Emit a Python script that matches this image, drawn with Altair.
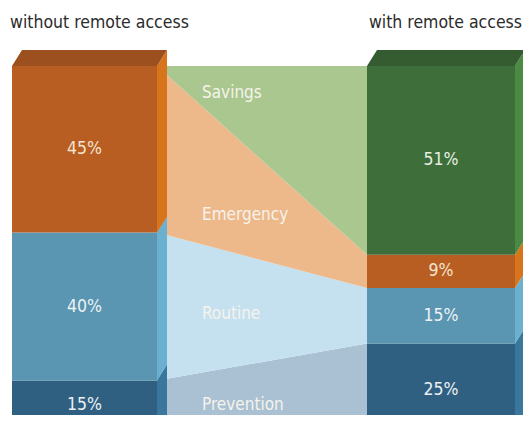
import altair as alt
import pandas as pd

# ---- data ----
categories = ["Prevention", "Routine", "Emergency", "Savings"]   # bottom -> top
without_pct = [15, 40, 45, 0]
with_pct = [25, 15, 9, 51]
bar_titles = ["without remote access", "with remote access"]

# ---- styles ----
front_col = {"Prevention": "#2f6082", "Routine": "#5a95b2", "Emergency": "#b95e22", "Savings": "#3e6f3b"}
side_col = {"Prevention": "#3a779c", "Routine": "#6cb0d0", "Emergency": "#d8741b", "Savings": "#4a8a42"}
top_col = {"Emergency": "#9c4f1f", "Savings": "#355c31"}
band_col = {"Prevention": "#a9c1d3", "Routine": "#c5e1f0", "Emergency": "#eeb98a", "Savings": "#a9c78f"}
pct_text_col = {"Prevention": "#eef0f2", "Routine": "#eef2f4", "Emergency": "#f3e4cf", "Savings": "#e8efe2"}

# ---- layout (x in pixel-like layout units, y in percent units) ----
W, H = 515, 407
bars_x = [(4, 149), (359, 507)]       # front face left/right edges
DX = 10                               # depth offset in x
PXPCT = 3.7                           # pixels per percent
TOP_PIX = 58                          # pixel row where 100% sits
DY = 16 / PXPCT                       # depth offset in percent units
y_dom = [100 - (H - TOP_PIX) / PXPCT, 100 + TOP_PIX / PXPCT]
y_min_text = y_dom[0] + 10 / PXPCT    # keep texts inside the bottom edge
label_y = {"Savings": 92.7, "Emergency": 59.7, "Routine": 33.0, "Prevention": 8.4}
cat_label_x = 194
FS = 17.5

xs = alt.Scale(domain=[0, W], nice=False, zero=False)
ys = alt.Scale(domain=y_dom, nice=False, zero=False)

def stack(vals):
    out, b = [], 0
    for c, v in zip(categories, vals):
        out.append((c, b, b + v))
        b += v
    return out

stacks = [stack(without_pct), stack(with_pct)]

fronts, sides, tops, bands, pcts = [], [], [], [], []
for bi, (st, (x0, x1)) in enumerate(zip(stacks, bars_x)):
    for c, lo, hi in st:
        if hi - lo <= 0:
            continue
        fronts.append(dict(x=x0, x2=x1, y=hi, y2=lo, col=front_col[c]))
        key = f"{bi}-{c}"
        sides.append(dict(k=key, x=x1, y=hi, y2=lo, col=side_col[c]))
        sides.append(dict(k=key, x=x1 + DX, y=hi + DY, y2=lo + DY, col=side_col[c]))
        pcts.append(dict(x=(x0 + x1) / 2, y=max((lo + hi) / 2, y_min_text),
                         t=f"{hi - lo:g}%", col=pct_text_col[c]))
    topcat = [c for c, lo, hi in st if hi > lo][-1]
    tc = top_col[topcat]
    k = f"top{bi}"
    tops += [dict(k=k, x=x0, y=100, y2=100, col=tc),
             dict(k=k, x=x0 + DX, y=100 + DY, y2=100, col=tc),
             dict(k=k, x=x1, y=100 + DY, y2=100, col=tc),
             dict(k=k, x=x1 + DX, y=100 + DY, y2=100 + DY, col=tc)]

xl, xr = bars_x[0][1], bars_x[1][0]
for (c, lo0, hi0), (_, lo1, hi1) in zip(stacks[0], stacks[1]):
    if c == "Savings":
        lo0 = hi0 = 100
    bands += [dict(k=c, x=xl, y=hi0, y2=lo0, col=band_col[c]),
              dict(k=c, x=xr, y=hi1, y2=lo1, col=band_col[c])]

cat_labels = pd.DataFrame([dict(x=cat_label_x, y=max(label_y[c], y_min_text), t=c) for c in categories])
title_y = 100 + (TOP_PIX - 20) / PXPCT
titles = pd.DataFrame([dict(x=2, y=title_y, t=bar_titles[0]),
                       dict(x=W - 1, y=title_y, t=bar_titles[1])])

FONT = "Liberation Sans Narrow, DejaVu Sans Condensed, sans-serif"
colsc = alt.Color("col:N", scale=None, legend=None)
X = alt.X("x:Q", scale=xs, axis=None)
Y = alt.Y("y:Q", scale=ys, axis=None)

band_layer = alt.Chart(pd.DataFrame(bands)).mark_area(clip=True, interpolate="linear").encode(
    x=X, y=Y, y2="y2:Q", color=colsc, detail="k:N")
front_layer = alt.Chart(pd.DataFrame(fronts)).mark_rect(clip=True).encode(
    x=X, x2="x2:Q", y=Y, y2="y2:Q", color=colsc)
side_layer = alt.Chart(pd.DataFrame(sides)).mark_area(clip=True).encode(
    x=X, y=Y, y2="y2:Q", color=colsc, detail="k:N")
top_layer = alt.Chart(pd.DataFrame(tops)).mark_area(clip=True).encode(
    x=X, y=Y, y2="y2:Q", color=colsc, detail="k:N")
pct_layer = alt.Chart(pd.DataFrame(pcts)).mark_text(font=FONT, fontSize=FS, baseline="middle").encode(
    x=X, y=Y, text="t:N", color=colsc)
cat_layer = alt.Chart(cat_labels).mark_text(font=FONT, fontSize=17, baseline="middle", align="left",
                                            color="#f6f3ec").encode(x=X, y=Y, text="t:N")
title_left = alt.Chart(titles.iloc[[0]]).mark_text(font=FONT, fontSize=FS, baseline="alphabetic",
                                                   align="left", color="#2b2b2b").encode(
    x=X, y=Y, text="t:N")
title_right = alt.Chart(titles.iloc[[1]]).mark_text(font=FONT, fontSize=FS, baseline="alphabetic",
                                                    align="right", color="#2b2b2b").encode(
    x=X, y=Y, text="t:N")

chart = alt.layer(band_layer, front_layer, side_layer, top_layer, pct_layer, cat_layer,
                  title_left, title_right).properties(
    width=W, height=H, padding=0, autosize=alt.AutoSizeParams(type="none"),
    background="white").configure_view(stroke=None)

chart.save("out.html", embed_options={"renderer": "svg", "actions": False})
